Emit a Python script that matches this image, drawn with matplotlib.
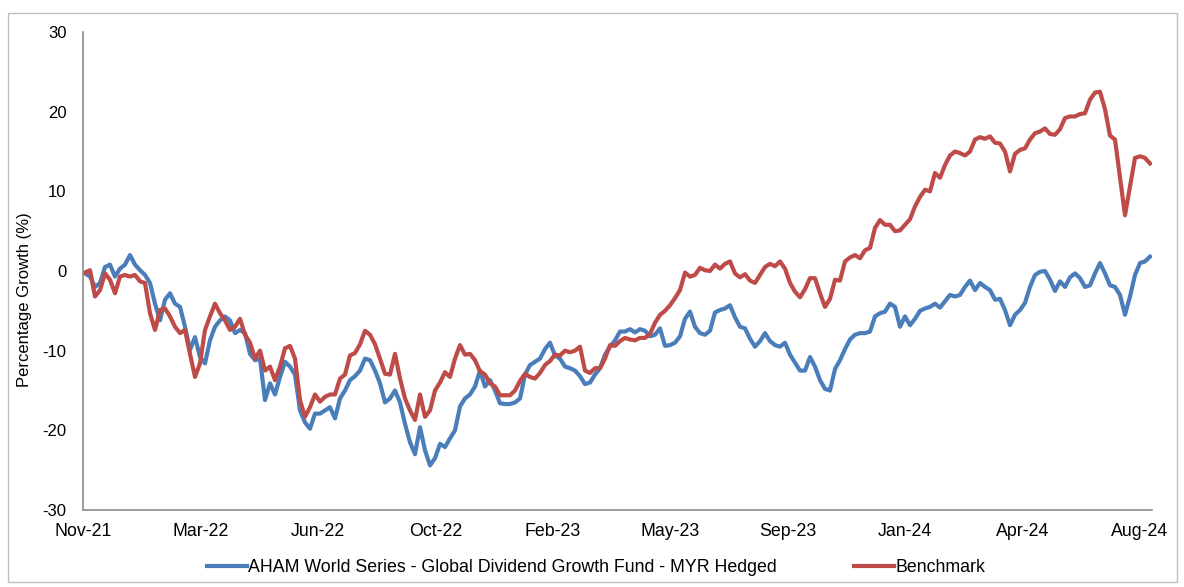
import numpy as np
import matplotlib
matplotlib.use("Agg")
import matplotlib.pyplot as plt
from matplotlib.patches import Rectangle

plt.rcParams['font.family'] = ['Liberation Sans', 'DejaVu Sans']
plt.rcParams['axes.unicode_minus'] = False

fund_name = "AHAM World Series - Global Dividend Growth Fund - MYR Hedged"
bench_name = "Benchmark"
tick_labels = ["Nov-21", "Mar-22", "Jun-22", "Oct-22", "Feb-23",
               "May-23", "Sep-23", "Jan-24", "Apr-24", "Aug-24"]
y_ticks = [-30, -20, -10, 0, 10, 20, 30]

fund = [
    -0.3, -0.7, -2.0, -1.5, 0.5, 0.8, -0.7, 0.3, 0.8, 2.0,
    0.8, 0.1, -0.5, -1.5, -4.1, -6.2, -3.6, -2.8, -4.1, -4.5,
    -7.0, -9.9, -8.3, -10.8, -11.6, -8.7, -7.0, -6.2, -5.7, -6.2,
    -7.8, -7.4, -7.8, -10.4, -11.2, -11.0, -16.2, -14.1, -15.5, -13.3,
    -11.4, -12.0, -13.0, -17.5, -19.0, -19.8, -17.9, -17.9, -17.5, -17.1,
    -18.5, -16.0, -15.0, -13.7, -13.2, -12.5, -11.0, -11.2, -12.5, -14.1,
    -16.5, -16.0, -15.0, -16.5, -19.2, -21.5, -23.0, -19.6, -22.5, -24.4,
    -23.5, -21.7, -22.1, -21.0, -20.0, -17.0, -16.0, -15.5, -14.5, -12.5,
    -14.5, -13.7, -15.0, -16.6, -16.7, -16.7, -16.5, -16.0, -13.0, -11.8,
    -11.4, -11.0, -9.8, -9.0, -10.6, -11.0, -12.0, -12.2, -12.5, -13.2,
    -14.2, -14.0, -13.0, -12.2, -10.5, -9.5, -8.7, -7.6, -7.6, -7.3,
    -7.7, -7.3, -7.5, -8.2, -8.0, -7.2, -9.4, -9.3, -9.0, -8.2,
    -6.0, -5.1, -7.0, -7.8, -8.0, -7.5, -5.2, -4.9, -4.7, -4.3,
    -5.8, -7.0, -7.2, -8.5, -9.5, -8.8, -7.8, -8.8, -9.3, -9.5,
    -9.0, -10.5, -11.5, -12.5, -12.5, -10.8, -12.0, -13.7, -14.8, -15.0,
    -12.3, -11.2, -9.8, -8.6, -8.0, -7.8, -7.8, -7.6, -5.7, -5.3,
    -5.1, -4.1, -4.5, -7.0, -5.7, -6.8, -6.0, -5.0, -4.7, -4.5,
    -4.1, -4.6, -3.8, -3.0, -3.2, -3.0, -2.0, -1.2, -2.4, -1.5,
    -2.0, -2.4, -3.6, -3.5, -4.9, -6.8, -5.5, -4.9, -4.0, -2.0,
    -0.5, -0.1, 0.0, -1.1, -2.5, -1.3, -2.0, -0.8, -0.3, -0.9,
    -2.0, -1.8, -0.3, 1.0, -0.3, -1.8, -2.0, -3.0, -5.5, -3.2,
    -0.5, 1.0, 1.2, 1.8,
]

benchmark = [
    -0.2, 0.1, -3.2, -2.4, -0.3, -1.1, -2.8, -0.7, -0.5, -0.7,
    -0.5, -1.3, -1.5, -5.3, -7.4, -4.9, -4.7, -5.7, -7.0, -7.8,
    -7.4, -10.4, -13.3, -11.6, -7.4, -5.7, -4.1, -5.3, -6.2, -7.4,
    -7.0, -6.0, -8.0, -9.0, -11.0, -10.0, -12.5, -12.0, -13.7, -12.0,
    -9.7, -9.4, -11.0, -16.2, -18.3, -17.1, -15.5, -16.4, -15.8, -15.5,
    -15.5, -13.5, -13.0, -10.6, -10.3, -9.2, -7.5, -8.0, -9.2, -11.0,
    -12.9, -13.0, -10.4, -13.5, -16.0, -17.5, -18.7, -15.5, -18.3, -17.5,
    -15.0, -14.0, -12.7, -13.3, -11.0, -9.3, -10.5, -10.4, -11.2, -12.6,
    -13.0, -14.1, -14.5, -15.6, -15.6, -15.6, -15.0, -13.8, -12.9, -13.3,
    -13.5, -12.8, -11.8, -11.3, -10.5, -10.6, -10.0, -10.2, -10.0, -9.5,
    -12.5, -12.8, -12.2, -12.2, -11.0, -9.3, -9.4, -8.8, -8.4, -8.6,
    -8.7, -8.4, -8.4, -7.9, -6.5, -5.5, -5.0, -4.3, -3.4, -2.4,
    -0.2, -0.7, -0.5, 0.4, 0.1, 0.0, 0.8, 0.3, 0.9, 1.2,
    -0.3, -0.8, -0.4, -1.2, -1.5, -0.5, 0.5, 0.9, 0.6, 1.2,
    0.3, -1.5, -2.6, -3.3, -2.3, -0.9, -0.9, -2.8, -4.5, -3.5,
    -1.1, -1.2, 1.2, 1.7, 2.0, 1.6, 2.6, 2.9, 5.4, 6.4,
    5.8, 5.8, 5.0, 5.1, 5.8, 6.5, 8.1, 9.3, 10.2, 10.0,
    12.3, 11.7, 13.3, 14.5, 15.0, 14.8, 14.5, 15.0, 16.5, 16.8,
    16.6, 16.9, 16.1, 16.0, 15.0, 12.5, 14.7, 15.2, 15.4, 16.5,
    17.3, 17.5, 17.9, 17.2, 17.1, 17.8, 19.2, 19.4, 19.4, 19.7,
    19.8, 21.5, 22.4, 22.5, 20.3, 17.0, 16.5, 11.7, 7.0, 10.6,
    14.2, 14.4, 14.2, 13.5,
]

n = min(len(fund), len(benchmark))
fund = fund[:n]
benchmark = benchmark[:n]
x = np.arange(n)

W, H = 1184, 587
fig = plt.figure(figsize=(W / 100, H / 100), dpi=100)
fig.patches.append(Rectangle((8 / W, 1 - 582 / H), (1177 - 8) / W, (582 - 13) / H,
                             transform=fig.transFigure, fill=False,
                             edgecolor='#BFBFBF', linewidth=1.0))

ax = fig.add_axes([83 / W, 1 - 510 / H, (1152 - 83) / W, (510 - 32) / H])
blue = '#4A7EBB'
red = '#BE4B48'
ax.plot(x, fund, color=blue, linewidth=3.0, label=fund_name, solid_joinstyle='round')
ax.plot(x, benchmark, color=red, linewidth=3.0, label=bench_name, solid_joinstyle='round')

ax.set_ylim(-30, 30)
ax.set_yticks(y_ticks)
ax.set_xlim(-0.4, n - 1 + 0.4)
step = (n - 1 + 0.4 - (-0.4)) * (1140 - 83) / (1152 - 83) / (len(tick_labels) - 1)
ax.set_xticks([-0.4 + k * step for k in range(len(tick_labels))])
ax.set_xticklabels(tick_labels)

for s in ['top', 'right']:
    ax.spines[s].set_visible(False)
for s in ['left', 'bottom']:
    ax.spines[s].set_color('#8C8C8C')
    ax.spines[s].set_linewidth(1.2)
ax.tick_params(axis='both', length=0, labelsize=12, colors='#000000')
ax.tick_params(axis='x', labelsize=12.8)
ax.tick_params(axis='y', pad=12)
ax.tick_params(axis='x', pad=9)

fig.text(25 / W, 1 - 300 / H, "Percentage Growth (%)", rotation=90,
         ha='center', va='center', fontsize=12)

fig.legend(loc='center', bbox_to_anchor=(596 / W, 1 - 568 / H), ncol=2, frameon=False,
           fontsize=12.8, handlelength=2.25, handletextpad=0.1, columnspacing=4.3)

fig.savefig('out.png', dpi=100)
